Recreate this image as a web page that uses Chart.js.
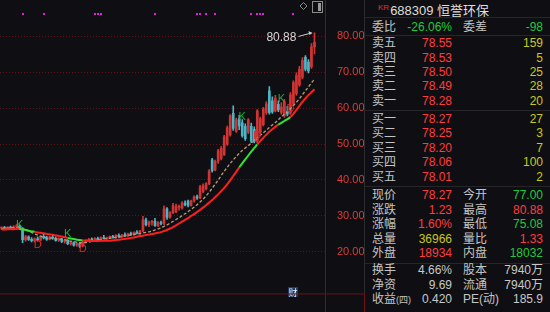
<!DOCTYPE html>
<html>
<head>
<meta charset="utf-8">
<script src="https://cdn.jsdelivr.net/npm/chart.js@4.4.1/dist/chart.umd.min.js"></script>
<style>
  html, body { margin: 0; padding: 0; background: #0f0f13; }
  #wrap { position: relative; width: 550px; height: 312px; overflow: hidden; background: #0f0f13;
    font-family: "Liberation Sans", "Noto Sans CJK SC", sans-serif; }
  #kline { position: absolute; left: 0; top: 0; }
  #panel { position: absolute; left: 365px; top: 0; width: 185px; height: 312px; }
  .row { position: absolute; left: 0; width: 185px; height: 14px; line-height: 14px; font-size: 12px; color: #c4c4c4; }
  .row span { position: absolute; top: 0; white-space: nowrap; }
  .l1 { left: 7px; }
  .v1 { right: 98px; }
  .l2 { left: 98px; }
  .v2 { right: 7px; }
  .small { font-size: 9px; }
  .sep { position: absolute; left: 0; width: 185px; height: 1px; background: #26262a; }
  #title { position: absolute; left: 13px; top: 0; height: 16px; line-height: 16px; color: #dedede; font-size: 13px; white-space: nowrap; }
  #title sup { color: #e03030; font-size: 8px; vertical-align: 5px; margin-right: 1px; }
</style>
</head>
<body>
<div id="wrap">
  <canvas id="kline" width="365" height="312"></canvas>
  <div id="panel"></div>
</div>
<script>
// daily candles, oldest first
const opens = [26.6, 26.8, 26.5, 26.9, 26.6, 27.0, 27.2, 26.4, 23.4, 24.2,
  23.5, 23.1, 23.6, 23.3, 24.3, 23.9, 23.5, 24.1, 23.8, 23.2,
  23.6, 22.9, 23.2, 22.3, 22.6, 21.9, 22.3, 21.6, 22.7, 23.2,
  23.5, 23.3, 23.8, 23.4, 24.0, 23.7, 23.9, 24.3, 24.0, 24.6,
  24.2, 24.7, 24.5, 25.0, 24.8, 25.4, 25.2, 25.8, 28.9, 27.6,
  28.2, 28.5, 27.3, 28.1, 27.9, 32.0, 29.6, 30.9, 31.2, 32.3,
  32.2, 33.6, 34.1, 32.9, 34.2, 35.3, 35.0, 36.8, 37.6, 39.0,
  45.6, 42.8, 45.2, 46.0, 47.0, 50.0, 52.5, 58.5, 53.6, 57.0,
  55.9, 54.9, 53.3, 54.9, 54.1, 50.8, 53.3, 55.4, 58.7, 64.8,
  62.0, 59.2, 61.0, 58.8, 57.8, 59.0, 58.6, 61.3, 64.0, 66.4,
  68.5, 74.1, 72.8, 71.5, 77.00];
const highs = [27.0, 27.1, 27.0, 27.2, 27.3, 27.6, 27.4, 26.6, 24.6, 24.5,
  24.0, 23.9, 24.2, 24.5, 24.9, 24.3, 24.4, 24.6, 24.2, 23.9,
  23.8, 23.5, 23.4, 22.9, 22.8, 22.6, 22.5, 22.9, 23.4, 23.8,
  23.9, 24.0, 24.1, 24.2, 24.6, 24.1, 24.5, 24.6, 24.8, 25.0,
  24.9, 25.3, 25.2, 25.5, 25.6, 25.9, 26.0, 29.9, 29.4, 28.6,
  28.8, 29.3, 28.4, 28.6, 32.8, 32.3, 31.2, 33.5, 33.3, 33.0,
  34.0, 34.2, 34.4, 34.4, 35.6, 35.8, 38.5, 38.9, 39.3, 42.9,
  46.0, 45.5, 48.5, 49.3, 52.4, 55.0, 58.2, 60.6, 57.2, 58.0,
  56.8, 55.6, 57.1, 55.8, 54.8, 59.6, 57.5, 60.2, 61.8, 66.0,
  63.1, 63.5, 62.0, 61.5, 62.4, 60.5, 64.3, 67.6, 69.8, 71.6,
  74.0, 74.6, 73.5, 77.9, 80.88];
const lows = [26.2, 26.4, 26.3, 26.5, 26.4, 26.7, 26.2, 22.6, 23.0, 23.2,
  22.8, 22.7, 23.0, 23.1, 23.6, 23.2, 23.3, 23.5, 23.0, 22.9,
  22.6, 22.4, 22.0, 21.9, 21.6, 21.5, 21.2, 21.4, 22.5, 22.9,
  23.0, 23.1, 23.2, 23.3, 23.6, 23.3, 23.7, 23.8, 23.8, 24.0,
  24.0, 24.3, 24.2, 24.6, 24.6, 25.0, 24.9, 25.6, 27.2, 27.0,
  27.4, 27.1, 27.0, 27.5, 27.6, 29.0, 29.4, 30.6, 30.9, 31.6,
  31.9, 32.8, 32.5, 32.7, 33.8, 34.6, 34.8, 36.5, 37.2, 38.7,
  42.2, 42.5, 44.6, 45.6, 46.8, 49.6, 52.2, 53.8, 53.2, 54.0,
  51.9, 51.0, 52.9, 50.4, 50.3, 50.3, 52.8, 55.0, 58.2, 58.3,
  58.5, 58.9, 59.0, 58.3, 57.4, 57.8, 58.2, 60.8, 63.5, 66.0,
  68.2, 70.3, 69.8, 71.0, 75.08];
const closes = [26.8, 26.5, 26.9, 26.6, 27.0, 27.2, 26.4, 23.4, 24.2, 23.5,
  23.1, 23.6, 23.3, 24.3, 23.9, 23.5, 24.1, 23.8, 23.2, 23.6,
  22.9, 23.2, 22.3, 22.6, 21.9, 22.3, 21.6, 22.7, 23.2, 23.5,
  23.3, 23.8, 23.4, 24.0, 23.7, 23.9, 24.3, 24.0, 24.6, 24.2,
  24.7, 24.5, 25.0, 24.8, 25.4, 25.2, 25.8, 28.9, 27.6, 28.2,
  28.5, 27.3, 28.1, 27.9, 32.0, 29.6, 30.9, 32.9, 32.6, 32.7,
  33.6, 33.1, 32.9, 34.2, 35.3, 35.0, 38.1, 38.4, 39.0, 42.5,
  42.6, 45.2, 48.1, 48.8, 52.0, 54.5, 57.8, 54.3, 56.7, 55.0,
  52.3, 51.5, 56.7, 50.8, 50.8, 59.2, 57.0, 59.7, 61.2, 58.8,
  58.9, 62.7, 59.5, 60.3, 61.8, 58.3, 63.7, 67.1, 69.0, 70.8,
  73.3, 70.8, 70.3, 77.04, 78.27];

// slow average (solid red, green where it turns) and fast average (dashed)
const slowAvg = [26.2, 26.2, 26.3, 26.3, 26.3, 26.4, 26.4, 26.3, 26.1, 25.9,
  25.7, 25.6, 25.4, 25.3, 25.2, 25.0, 24.9, 24.8, 24.6, 24.4,
  24.3, 24.1, 23.9, 23.7, 23.6, 23.4, 23.3, 23.2, 23.1, 23.1,
  23.0, 23.0, 23.0, 23.1, 23.1, 23.1, 23.1, 23.2, 23.3, 23.4,
  23.5, 23.6, 23.7, 23.9, 24.0, 24.2, 24.4, 24.5, 24.7, 24.8,
  25.0, 25.1, 25.3, 25.5, 25.8, 26.1, 26.5, 26.9, 27.4, 27.9,
  28.4, 28.9, 29.4, 30.0, 30.5, 31.1, 31.7, 32.3, 33.0, 33.7,
  34.4, 35.2, 36.0, 36.9, 37.8, 38.8, 39.9, 41.1, 42.3, 43.5,
  44.6, 45.7, 46.8, 47.9, 48.9, 49.9, 50.8, 51.7, 52.6, 53.4,
  54.1, 54.8, 55.4, 55.9, 56.4, 56.9, 57.5, 58.4, 59.5, 60.6,
  61.7, 62.7, 63.6, 64.4, 65.2];
const fastAvg = [26.5, 26.5, 26.6, 26.6, 26.7, 26.7, 26.8, 26.6, 26.2, 25.8,
  25.4, 25.0, 24.7, 24.4, 24.2, 24.0, 23.9, 23.8, 23.7, 23.6,
  23.5, 23.4, 23.2, 23.0, 22.9, 22.7, 22.6, 22.5, 22.6, 22.7,
  22.9, 23.1, 23.3, 23.4, 23.6, 23.7, 23.8, 23.9, 24.0, 24.1,
  24.3, 24.4, 24.6, 24.7, 24.9, 25.0, 25.1, 25.3, 25.4, 25.6,
  25.8, 26.1, 26.4, 26.7, 27.1, 27.5, 28.0, 28.5, 29.0, 29.5,
  30.1, 30.6, 31.2, 31.8, 32.4, 33.1, 33.9, 34.7, 35.6, 36.6,
  37.7, 38.8, 40.0, 41.2, 42.4, 43.5, 44.6, 45.6, 46.5, 47.4,
  48.2, 48.9, 49.6, 50.2, 50.9, 51.6, 52.4, 53.1, 53.8, 54.6,
  55.3, 56.0, 56.7, 57.6, 58.3, 59.0, 59.8, 60.7, 61.6, 62.6,
  63.7, 64.8, 65.9, 67.0, 68.0];
const greenRuns = [[6, 11], [22, 27], [79, 85], [92, 96]];

// K / D signal marks: candle index and price where the letter sits
const kDays = [6, 22, 80, 93];
const kPrices = [27.4, 25.1, 57.4, 62.6];
const dDays = [12, 27, 85, 96];
const dPrices = [21.8, 20.8, 52.3, 59.7];
const signalDays = [7, 14, 31, 32, 33, 51, 65, 66, 68, 71, 83, 85, 86, 87, 97];
const reportDay = 97;
const priceTicks = [20, 30, 40, 50, 60, 70, 80];
const slotCount = 108;

// quote panel
const sellNames = ["卖五", "卖四", "卖三", "卖二", "卖一"];
const sellPrices = ["78.55", "78.53", "78.50", "78.49", "78.28"];
const sellVols = ["159", "5", "25", "28", "20"];
const buyNames = ["买一", "买二", "买三", "买四", "买五"];
const buyPrices = ["78.27", "78.25", "78.20", "78.06", "78.01"];
const buyVols = ["27", "3", "7", "100", "2"];

const RED = "#ff3c3c", GREEN = "#22c83a", YELLOW = "#c8c81e", GRAY = "#c8c8c8";
const UP = "#d23434", DOWN = "#4db4c6";

const candleColors = closes.map((c, i) => (c >= opens[i] ? UP : DOWN));
const inGreen = (i) => greenRuns.some(([a, b]) => i >= a && i < b);

const overlay = {
  id: "overlay",
  afterDatasetsDraw(chart) {
    const { ctx, scales: { x, y } } = chart;
    ctx.save();
    ctx.fillStyle = "#e01ee0";
    for (const d of signalDays) ctx.fillRect(Math.round(x.getPixelForValue(d)) - 1, 13, 2, 2);

    ctx.font = "11px 'Liberation Sans'";
    ctx.textAlign = "center";
    ctx.textBaseline = "middle";
    ctx.fillStyle = "#1fae3c";
    kDays.forEach((d, n) => ctx.fillText("K", x.getPixelForValue(d), y.getPixelForValue(kPrices[n])));
    ctx.fillStyle = "#e02626";
    dDays.forEach((d, n) => ctx.fillText("D", x.getPixelForValue(d), y.getPixelForValue(dPrices[n])));

    // high marker on the last candle
    const last = highs.length - 1;
    const hx = x.getPixelForValue(last), hy = y.getPixelForValue(highs[last]);
    ctx.strokeStyle = "#cfcfcf";
    ctx.fillStyle = "#cfcfcf";
    ctx.lineWidth = 1;
    ctx.beginPath();
    ctx.moveTo(hx - 16, hy + 3.5);
    ctx.lineTo(hx - 3, hy);
    ctx.stroke();
    ctx.beginPath();
    ctx.moveTo(hx - 2, hy);
    ctx.lineTo(hx - 6, hy - 2);
    ctx.lineTo(hx - 5, hy + 2);
    ctx.fill();
    ctx.font = "12px 'Liberation Sans'";
    ctx.textAlign = "right";
    ctx.fillStyle = "#d6d6d6";
    ctx.fillText(highs[last].toFixed(2), hx - 18, hy + 5);

    // report flag
    const rx = Math.round(x.getPixelForValue(reportDay));
    ctx.fillStyle = "#1d3b6b";
    ctx.fillRect(rx - 5, 287, 10, 10);
    ctx.fillStyle = "#e6ecf4";
    ctx.textAlign = "center";
    ctx.font = "9px 'Noto Sans CJK SC'";
    ctx.fillText("财", rx, 292.5);
    ctx.restore();
  },
  afterDraw(chart) {
    const { ctx, chartArea: a } = chart;
    ctx.save();
    ctx.strokeStyle = "#6e1212";
    ctx.lineWidth = 1;
    ctx.beginPath();
    ctx.moveTo(a.right + 0.5, 0);
    ctx.lineTo(a.right + 0.5, 312);
    ctx.moveTo(0, a.bottom + 0.5);
    ctx.lineTo(365, a.bottom + 0.5);
    ctx.stroke();
    ctx.strokeStyle = "#2c2c30";
    ctx.beginPath();
    ctx.moveTo(364.5, 0);
    ctx.lineTo(364.5, a.bottom);
    ctx.stroke();
    ctx.strokeStyle = "#6e1212";
    ctx.beginPath();
    ctx.moveTo(364.5, a.bottom);
    ctx.lineTo(364.5, 312);
    ctx.stroke();
    // toolbar icons
    ctx.strokeStyle = "#8a8a8a";
    ctx.beginPath();
    ctx.moveTo(303.5, 2.5);
    ctx.lineTo(307, 6);
    ctx.lineTo(303.5, 9.5);
    ctx.lineTo(300, 6);
    ctx.closePath();
    ctx.stroke();
    ctx.strokeRect(312.5, 1.5, 10, 11);
    ctx.fillStyle = "#9a9a9a";
    ctx.fillRect(318, 3, 3, 8);
    ctx.restore();
  }
};

new Chart(document.getElementById("kline"), {
  type: "bar",
  data: {
    labels: Array.from({ length: slotCount }, (_, i) => String(i)),
    datasets: [
      {
        label: "slow",
        type: "line",
        data: slowAvg,
        borderColor: "#ff1e1e",
        borderWidth: 2,
        pointRadius: 0,
        tension: 0.3,
        segment: { borderColor: (c) => (inGreen(c.p0DataIndex) ? "#2ee62e" : "#ff1e1e") },
        order: 1,
      },
      {
        label: "fast",
        type: "line",
        data: fastAvg,
        borderColor: "#b89a78",
        borderWidth: 1.3,
        borderDash: [3, 2],
        pointRadius: 0,
        tension: 0.3,
        order: 1,
      },
      {
        label: "wick",
        data: lows.map((l, i) => [l, highs[i]]),
        backgroundColor: candleColors,
        barThickness: 1,
        grouped: false,
        order: 3,
      },
      {
        label: "body",
        data: opens.map((o, i) => [o, closes[i]]),
        backgroundColor: candleColors,
        barThickness: 2,
        minBarLength: 1,
        grouped: false,
        order: 2,
      },
    ],
  },
  options: {
    responsive: false,
    animation: false,
    layout: { padding: { top: 0, left: 0, right: 0, bottom: 14 } },
    plugins: { legend: { display: false }, tooltip: { enabled: false } },
    scales: {
      x: { display: false, offset: true, grid: { display: false } },
      y: {
        position: "right",
        min: 8.46,
        max: 84.87,
        afterBuildTicks: (s) => { s.ticks = priceTicks.map((v) => ({ value: v })); },
        afterFit: (s) => { s.width = 40; },
        grid: { color: "#621414", drawTicks: false },
        border: { display: false, dash: [1, 2] },
        ticks: {
          color: "#e03a3a",
          padding: 12,
          font: { family: "Liberation Sans", size: 11 },
          callback: (v) => Number(v).toFixed(2),
        },
      },
    },
  },
  plugins: [overlay],
});

// quote panel
const panel = document.getElementById("panel");
panel.innerHTML = '<div id="title"><sup>KR</sup>688309 恒誉环保</div>';
function addRow(cy, cells) {
  const row = document.createElement("div");
  row.className = "row";
  row.style.top = (cy - 7) + "px";
  for (const [text, cls, color] of cells) {
    const s = document.createElement("span");
    s.className = cls;
    s.textContent = text;
    if (color) s.style.color = color;
    row.appendChild(s);
  }
  panel.appendChild(row);
  return row;
}
function addSep(y) {
  const d = document.createElement("div");
  d.className = "sep";
  d.style.top = y + "px";
  panel.appendChild(d);
}
addSep(17);
addRow(27, [["委比", "l1"], ["-26.06%", "v1", GREEN], ["委差", "l2"], ["-98", "v2", GREEN]]);
addSep(35);
const sellY = [43, 58, 72, 86, 101];
sellNames.forEach((n, k) => addRow(sellY[k], [[n, "l1"], [sellPrices[k], "v1", RED], [sellVols[k], "v2", YELLOW]]));
addSep(110);
const buyY = [119, 133, 148, 162, 177];
buyNames.forEach((n, k) => addRow(buyY[k], [[n, "l1"], [buyPrices[k], "v1", RED], [buyVols[k], "v2", YELLOW]]));
addSep(186);
addRow(195, [["现价", "l1"], ["78.27", "v1", RED], ["今开", "l2"], ["77.00", "v2", GREEN]]);
addRow(210, [["涨跌", "l1"], ["1.23", "v1", RED], ["最高", "l2"], ["80.88", "v2", RED]]);
addRow(224, [["涨幅", "l1"], ["1.60%", "v1", RED], ["最低", "l2"], ["75.08", "v2", GREEN]]);
addRow(239, [["总量", "l1"], ["36966", "v1", YELLOW], ["量比", "l2"], ["1.33", "v2", RED]]);
addRow(253, [["外盘", "l1"], ["18934", "v1", RED], ["内盘", "l2"], ["18032", "v2", GREEN]]);
addSep(263);
addRow(270, [["换手", "l1"], ["4.66%", "v1", GRAY], ["股本", "l2"], ["7940万", "v2", GRAY]]);
addRow(285, [["净资", "l1"], ["9.69", "v1", GRAY], ["流通", "l2"], ["7940万", "v2", GRAY]]);
const lastRow = addRow(299, [["收益", "l1"], ["0.420", "v1", GRAY], ["PE(动)", "l2"], ["185.9", "v2", GRAY]]);
lastRow.querySelector(".l1").innerHTML = '收益<span class="small" style="position:static">(四)</span>';
</script>
</body>
</html>
